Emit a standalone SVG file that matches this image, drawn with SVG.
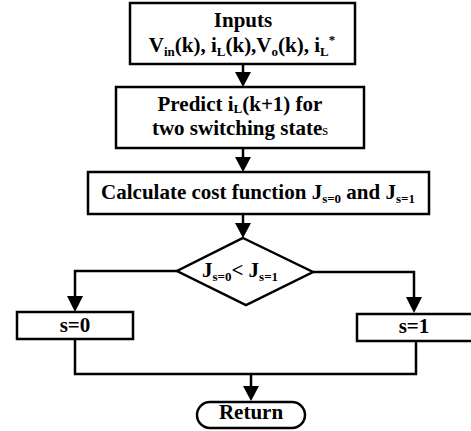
<svg xmlns="http://www.w3.org/2000/svg" width="471" height="431" viewBox="0 0 471 431">
<style>
.box{fill:#fff;stroke:#000;stroke-width:2.5}
.ln{fill:none;stroke:#000;stroke-width:2.5}
.ah{fill:#000}
.t{font-weight:bold;font-size:21px;fill:#000;text-anchor:middle}
.sub{font-size:13px}
</style>
<rect width="471" height="431" fill="#fff"/>
<g id="connectors">
<line class="ln" x1="243" y1="64" x2="243" y2="76"/>
<path class="ah" d="M235,72 L251,72 L243,87 Z"/>
<line class="ln" x1="243" y1="148" x2="243" y2="160"/>
<path class="ah" d="M235,157 L251,157 L243,172 Z"/>
<line class="ln" x1="243" y1="214" x2="243" y2="226"/>
<path class="ah" d="M235,223 L251,223 L243,238 Z"/>
<polyline class="ln" points="177,271 75,271 75,300"/>
<path class="ah" d="M67,296 L83,296 L75,312 Z"/>
<polyline class="ln" points="313,272 414,272 414,301"/>
<path class="ah" d="M406,297 L422,297 L414,313 Z"/>
<polyline class="ln" points="75,339 75,374 416,374 416,339"/>
<line class="ln" x1="251" y1="374" x2="251" y2="390"/>
<path class="ah" d="M243,386 L259,386 L251,401 Z"/>
</g>
<g font-family="Liberation Serif, Times New Roman, serif">
<g id="inputs">
<rect class="box" x="130" y="3" width="225" height="61"/>
<text class="t" x="243" y="27">Inputs</text>
<text class="t" x="242" y="52">V<tspan class="sub" dy="4">in</tspan><tspan dy="-4">(k), i</tspan><tspan class="sub" dy="4">L</tspan><tspan dy="-4">(k),V</tspan><tspan class="sub" dy="4">o</tspan><tspan dy="-4">(k), i</tspan><tspan class="sub" dy="4">L</tspan><tspan class="sub" dy="-12">*</tspan></text>
</g>
<g id="predict">
<rect class="box" x="116" y="87" width="248" height="61"/>
<text class="t" x="240" y="111">Predict i<tspan class="sub" dy="2">L</tspan><tspan dy="-2">(k+1) for</tspan></text>
<text class="t" x="240" y="135">two switching state<tspan style="font-size:15px;font-weight:normal">s</tspan></text>
</g>
<g id="cost">
<rect class="box" x="88" y="172" width="341" height="42"/>
<text class="t" x="258" y="199">Calculate cost function J<tspan class="sub" dy="4">s=0</tspan><tspan dy="-4"> and J</tspan><tspan class="sub" dy="4">s=1</tspan></text>
</g>
<g id="decision">
<polygon class="box" points="243,238 313,272 246,305 177,271"/>
<text class="t" x="240" y="277">J<tspan class="sub" dy="4">s=0</tspan><tspan dy="-4">&lt; J</tspan><tspan class="sub" dy="4">s=1</tspan></text>
</g>
<g id="s0">
<rect class="box" x="17" y="312" width="116" height="27"/>
<text class="t" x="75" y="332">s=0</text>
</g>
<g id="s1">
<rect class="box" x="357" y="314" width="120" height="27"/>
<text class="t" x="414" y="333">s=1</text>
</g>
<g id="return">
<rect class="box" x="197" y="402" width="108" height="26" rx="13" ry="13"/>
<text class="t" x="251" y="419">Return</text>
</g>
</g>
</svg>
